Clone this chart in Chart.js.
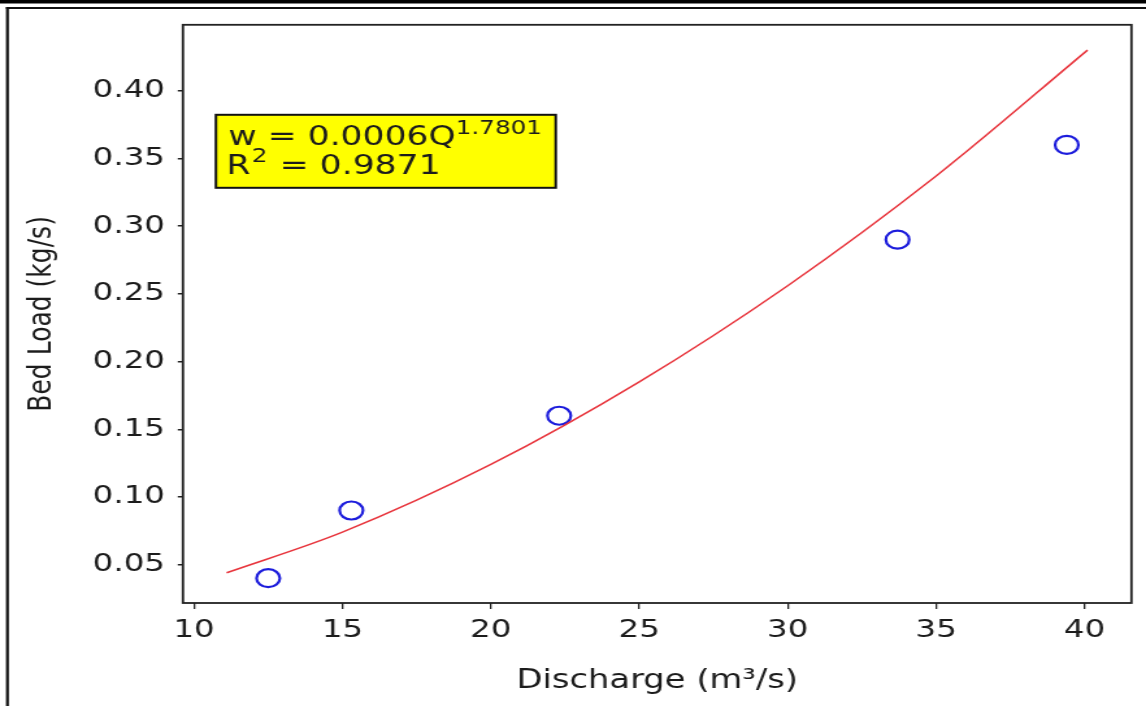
<!DOCTYPE html>
<html>
<head>
<meta charset="utf-8">
<script src="https://cdn.jsdelivr.net/npm/chart.js@4/dist/chart.umd.min.js"></script>
<style>
  html, body { margin: 0; padding: 0; background: #fff; overflow: hidden; }
  /* the source figure is stretched sideways, so the canvas is too */
  #c { display: block; width: 1146px !important; height: 706px !important; }
</style>
</head>
<body>
<canvas id="c" width="882" height="706" style="width:1146px;height:706px"></canvas>
<script>
// measured points
const discharge = [12.5, 15.3, 22.3, 33.7, 39.4];
const bedLoad = [0.04, 0.09, 0.16, 0.29, 0.36];

// fitted curve
const fitDischarge = [11.1, 15, 20, 25, 30, 35, 40.1];
const fitBedLoad = [0.044, 0.074, 0.124, 0.185, 0.256, 0.337, 0.43];

const xTicks = [10, 15, 20, 25, 30, 35, 40];
const yTicks = [0.05, 0.10, 0.15, 0.20, 0.25, 0.30, 0.35, 0.40];

const fitLine1 = 'w = 0.0006Q';
const fitExp = '1.7801';
const fitLine2a = 'R';
const fitLine2sup = '2';
const fitLine2b = ' = 0.9871';

const FONT = '"DejaVu Sans", sans-serif';
const INK = '#1c1c1c';

// page outline and the plot frame
const framePlugin = {
  id: 'frame',
  beforeDraw(chart) {
    const ctx = chart.ctx;
    ctx.save();
    ctx.fillStyle = '#fff';
    ctx.fillRect(0, 0, chart.width, chart.height);
    ctx.fillStyle = '#000';
    ctx.fillRect(0, 0, chart.width, 3.5);
    ctx.fillStyle = '#111';
    ctx.fillRect(4.6, 7, chart.width, 2);
    ctx.fillRect(4.6, 7, 2.2, chart.height);
    ctx.restore();
  },
  afterDraw(chart) {
    const {ctx, chartArea: a} = chart;
    ctx.save();
    ctx.strokeStyle = '#222';
    ctx.lineWidth = 1.8;
    ctx.strokeRect(a.left, a.top, a.right - a.left, a.bottom - a.top);

    // fit equation box
    const bx = a.left + 25.4, by = a.top + 90, bw = 261.5, bh = 73;
    ctx.fillStyle = '#ffff00';
    ctx.fillRect(bx, by, bw, bh);
    ctx.strokeStyle = '#111';
    ctx.lineWidth = 2;
    ctx.strokeRect(bx, by, bw, bh);

    ctx.fillStyle = INK;
    ctx.textBaseline = 'alphabetic';
    ctx.textAlign = 'left';
    const tx = bx + 9.6;
    ctx.font = '26.6px ' + FONT;
    ctx.fillText(fitLine1, tx, by + 30);
    let w = ctx.measureText(fitLine1).width;
    ctx.font = '19px ' + FONT;
    ctx.fillText(fitExp, tx + w, by + 19.5);

    ctx.font = '26.6px ' + FONT;
    ctx.fillText(fitLine2a, tx - 1.5, by + 58.7);
    w = ctx.measureText(fitLine2a).width;
    ctx.font = '19px ' + FONT;
    ctx.fillText(fitLine2sup, tx - 1.5 + w + 1, by + 47.5);
    const w2 = ctx.measureText(fitLine2sup).width;
    ctx.font = '26.6px ' + FONT;
    ctx.fillText(fitLine2b, tx - 1.5 + w + w2 + 2, by + 58.7);
    ctx.restore();
  }
};

new Chart(document.getElementById('c'), {
  type: 'scatter',
  data: {
    datasets: [
      {
        label: 'fit',
        data: fitDischarge.map((q, i) => ({x: q, y: fitBedLoad[i]})),
        showLine: true,
        borderColor: '#e8343c',
        borderWidth: 1.5,
        pointRadius: 0,
        cubicInterpolationMode: 'monotone',
        fill: false,
      },
      {
        label: 'observed',
        data: discharge.map((q, i) => ({x: q, y: bedLoad[i]})),
        showLine: false,
        pointStyle: 'circle',
        pointRadius: 9,
        pointBorderWidth: 2.2,
        pointBorderColor: '#1c1cdc',
        pointBackgroundColor: 'rgba(0,0,0,0)',
      },
    ],
  },
  options: {
    responsive: false,
    animation: false,
    events: [],
    devicePixelRatio: 1,
    layout: { padding: { top: 24, right: 10.8, left: 0, bottom: 0 } },
    plugins: {
      legend: { display: false },
      tooltip: { enabled: false },
    },
    scales: {
      x: {
        type: 'linear',
        min: 9.628,
        max: 41.58,
        afterFit: (scale) => { scale.height = 103; },
        afterBuildTicks: (scale) => { scale.ticks = xTicks.map(v => ({value: v})); },
        border: { display: false },
        grid: {
          drawOnChartArea: false,
          drawTicks: true,
          tickLength: 6,
          color: '#222',
          lineWidth: 1.3,
        },
        ticks: {
          color: INK,
          padding: 6.4,
          maxRotation: 0,
          font: { family: FONT, size: 25 },
          callback: (v) => String(v),
        },
        title: {
          display: true,
          text: 'Discharge (m³/s)',
          color: INK,
          font: { family: FONT, size: 26 },
          padding: { top: 0, bottom: 9 },
        },
      },
      y: {
        type: 'linear',
        min: 0.0217,
        max: 0.4487,
        afterFit: (scale) => { scale.width = 140.8; },
        afterBuildTicks: (scale) => { scale.ticks = yTicks.map(v => ({value: v})); },
        border: { display: false },
        grid: {
          drawOnChartArea: false,
          drawTicks: true,
          tickLength: 4,
          color: '#222',
          lineWidth: 1.5,
        },
        ticks: {
          color: INK,
          padding: 9.8,
          font: { family: FONT, size: 25 },
          callback: (v) => v.toFixed(2),
        },
        title: {
          display: true,
          text: 'Bed Load (kg/s)',
          color: INK,
          font: { family: FONT, size: 25 },
          padding: { top: 17.3, bottom: 0 },
        },
      },
    },
  },
  plugins: [framePlugin],
});
</script>
</body>
</html>
